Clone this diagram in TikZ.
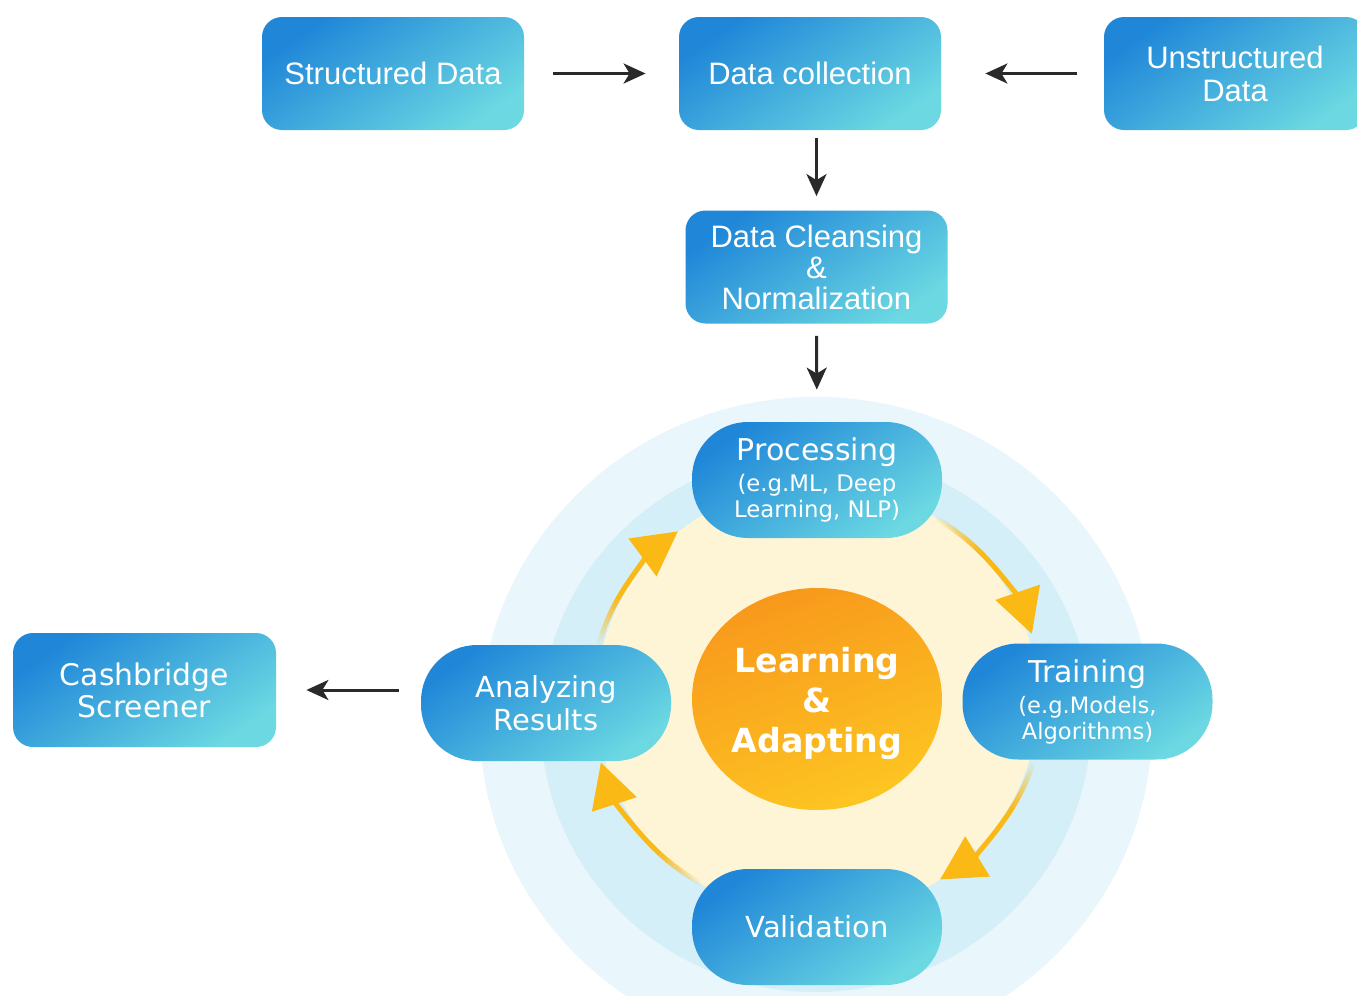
\documentclass[tikz,border=0pt]{standalone}
\usepackage{fontspec}
\setmainfont{Liberation Sans}
\newfontfamily\djv{DejaVu Sans}
\usetikzlibrary{arrows.meta,shapes.geometric}
\definecolor{bdark}{HTML}{1F86D8}
\definecolor{blight}{HTML}{6BD8E2}
\definecolor{ringA}{HTML}{E9F6FC}
\definecolor{ringB}{HTML}{D4EFF8}
\definecolor{cream}{HTML}{FEF5D6}
\definecolor{orgA}{HTML}{F8981C}
\definecolor{orgB}{HTML}{FDC622}
\definecolor{arcy}{HTML}{FBB915}
\definecolor{ink}{HTML}{2A2A2A}
\newcommand{\fadearc}[2]{%
  \foreach \k in {0,...,13}{%
    \pgfmathsetmacro\op{(\k+1)/14}%
    \pgfmathsetmacro\sa{#1+\k}%
    \pgfmathsetmacro\ea{#1+\k+1}%
    \draw[draw=arcy, line width=2.5pt, draw opacity=\op] (cc) ++(\sa:226 and 214)
      arc[start angle=\sa, end angle=\ea, x radius=226, y radius=214];
  }%
  \pgfmathsetmacro\sb{#1+14}%
  \draw[cyc] (cc) ++(\sb:226 and 214) arc[start angle=\sb, end angle=#2, x radius=226, y radius=214];
}
\begin{document}
\begin{tikzpicture}[x=0.5pt,y=-0.5pt,
  bluebox/.style={rectangle, rounded corners=10pt, minimum width=131pt, minimum height=56.5pt,
    inner sep=0pt, text=white, align=center, top color=bdark, bottom color=blight, shading angle=35,
    font=\fontsize{15.5}{16.5}\selectfont},
  pill/.style={rectangle, rounded corners=28pt, minimum width=125pt, minimum height=58pt,
    inner sep=0pt, text=white, align=center, top color=bdark, bottom color=blight, shading angle=35,
    font=\djv\fontsize{14.5}{15.5}\selectfont},
  blk/.style={draw=ink, line width=1.5pt, -{Stealth[length=11pt,width=10pt,inset=3pt]}},
  cyc/.style={draw=arcy, line width=2.5pt, -{Triangle[length=22pt,width=23pt]}}
]
\useasboundingbox (0,0) rectangle (1357,996);
\fill[white] (0,0) rectangle (1357,996);

% background rings
\coordinate (cc) at (817,700);
\fill[ringA] (816,725) ellipse[x radius=336, y radius=328];
\fill[ringB] (816,722) ellipse[x radius=275, y radius=270];
\fill[cream] (cc) ellipse[x radius=221, y radius=216];

% cycle arcs
\fadearc{195}{232}
\fadearc{302}{342}
\fadearc{17}{57}
\fadearc{121}{163}

% top boxes
\node[bluebox] (sd) at (393,73.5) {Structured Data};
\node[bluebox] (dc) at (810,73.5) {Data collection};
\node[bluebox] (ud) at (1235,73.5) {Unstructured\\Data};
\node[bluebox, font=\fontsize{15.5}{15.5}\selectfont] (cl) at (816.5,267) {Data Cleansing\\\&\\Normalization};

% cycle nodes
\node[pill, font=\djv\fontsize{15}{15.5}\selectfont] (pr) at (817,480) {Processing\\{\fontsize{11.4}{12}\selectfont(e.g.ML, Deep}\\[-2.5pt]{\fontsize{11.4}{12}\selectfont Learning, NLP)}};
\node[pill, font=\djv\fontsize{15}{15.5}\selectfont] (tr) at (1087.5,701.5) {Training\\{\fontsize{11.3}{12}\selectfont(e.g.Models,}\\[-2.5pt]{\fontsize{11.3}{12}\selectfont Algorithms)}};
\node[pill] (an) at (546,703) {Analyzing\\[1pt]Results};
\node[pill] (va) at (817,927) {Validation};
\node[ellipse, minimum width=125pt, minimum height=111pt, inner sep=0pt, top color=orgA, bottom color=orgB,
  shading angle=20, text=white, align=center, font=\djv\bfseries\fontsize{16.6}{20}\selectfont] (la) at (817,699) {};
\node[text=white, align=center, font=\djv\bfseries\fontsize{16.6}{20}\selectfont] (lt) at (817,703) {Learning\\\&\\Adapting};

\node[bluebox, minimum width=131.5pt, minimum height=57pt, font=\djv\fontsize{14.9}{15.5}\selectfont] (ca) at (144.5,690) {Cashbridge\\[0.5pt]Screener};

% connectors
\draw[blk, shorten <=14.5pt, shorten >=16.5pt] (sd.east) -- (dc.west);
\draw[blk, shorten <=13.5pt, shorten >=22pt] (ud.west) -- (dc.east);
\draw[blk, shorten <=4pt, shorten >=7pt] (dc.south -| cl.north) -- (cl.north);
\draw[blk, shorten <=6pt, shorten >=16pt] (cl.south) -- (pr.north);
\draw[blk, shorten <=11pt, shorten >=15pt] (an.west |- ca.east) -- (ca.east);
\end{tikzpicture}
\end{document}
